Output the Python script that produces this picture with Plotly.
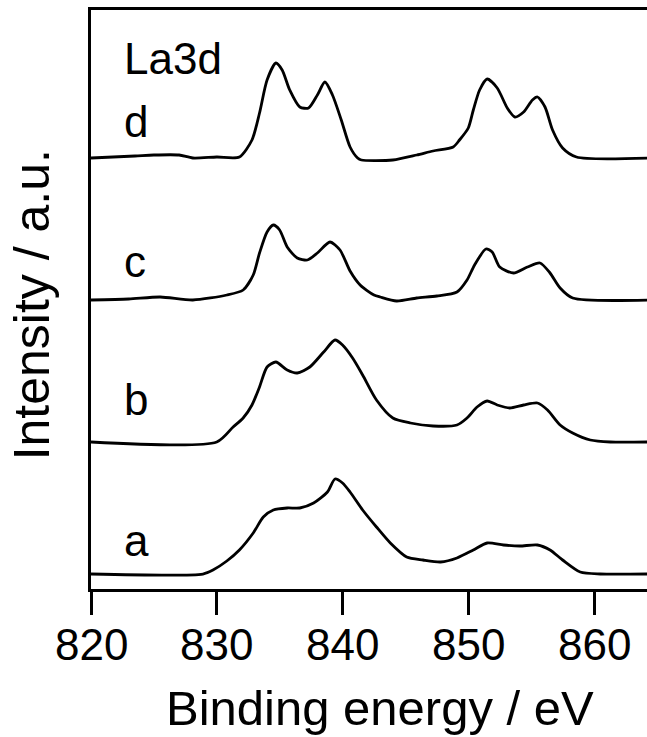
import plotly.graph_objects as go

# Binding energy (eV) and intensity (a.u.)
energy_a = [820, 828.9, 829.7, 830.8, 831.8, 832.9, 833.7, 834.5, 835.6, 836.6, 837.7, 838.8, 839.4, 840,
            840.6, 841.6, 842.7, 843.8, 845.1, 846.4, 847.8, 849.1, 850.4, 851.5, 852.8, 854.1, 855.5,
            856.5, 857.5, 858.9, 860.5, 864.3]
intensity_a = [15, 15, 19, 28, 39, 56, 72, 79, 81, 81, 86, 97, 110, 106,
               97, 79, 62, 46, 32, 29, 27, 31, 39, 46, 44, 43, 44,
               39, 29, 17, 15, 15]

energy_b = [820, 830, 831.3, 832.1, 832.8, 833.4, 834, 834.7, 835.6, 836.4, 837.4, 838.5, 839.4, 840,
            840.8, 841.6, 842.7, 844, 845.4, 847.2, 849.1, 849.9, 850.7, 851.5, 852.3, 853.3, 854.4,
            855.5, 856.3, 857.3, 858.3, 859.7, 861.3, 864.3]
intensity_b = [147, 147, 162, 171, 184, 202, 222, 227, 219, 216, 222, 237, 249, 244,
               231, 214, 189, 171, 166, 163, 164, 171, 182, 188, 184, 181, 184,
               186, 179, 164, 156, 149, 147, 147]

energy_c = [820, 823, 825.5, 828.1, 830.8, 832.1, 832.9, 833.4, 834, 834.5, 835, 835.6, 836.4, 837.2,
            838, 839, 839.8, 840.6, 841.4, 842.5, 843, 844.3, 845.9, 847.5, 849.1, 849.9, 850.5,
            851.4, 851.9, 852.5, 853.6, 854.7, 855.7, 856.5, 857.3, 858.3, 864.3]
intensity_c = [289, 290, 292, 289, 294, 299, 314, 336, 357, 364, 359, 342, 331, 329,
               336, 347, 339, 318, 304, 294, 292, 288, 291, 293, 297, 309, 324,
               340, 337, 322, 316, 322, 326, 316, 301, 291, 289]

energy_d = [820, 823.5, 825, 827, 828.1, 830, 831.8, 832.8, 833.4, 834, 834.7, 835.2, 835.8, 836.6,
            837.3, 838, 838.6, 839.2, 839.9, 840.6, 841.2, 841.5, 844, 845.9, 847.2, 848.8, 849.3,
            850, 850.4, 850.9, 851.5, 852.3, 853.1, 853.7, 854.4, 855.1, 855.5, 856.1, 856.7,
            857.5, 858.6, 864.3]
intensity_d = [431, 433, 434, 434, 431, 432, 432, 449, 476, 509, 526, 519, 499, 482,
               481, 494, 507, 494, 469, 442, 431, 429, 429, 434, 438, 442, 449,
               461, 479, 499, 510, 501, 481, 472, 477, 489, 492, 482, 459,
               441, 432, 431]

tick_values = [820, 830, 840, 850, 860]
tick_labels = ["820", "830", "840", "850", "860"]

curve_labels = ["a", "b", "c", "d"]
label_y = [49, 190, 328, 468]
header_text = "La3d"
header_y = 531

FONT = "Liberation Sans, Arial, sans-serif"

fig = go.Figure()
for ex, iy in [(energy_a, intensity_a), (energy_b, intensity_b),
               (energy_c, intensity_c), (energy_d, intensity_d)]:
    fig.add_trace(go.Scatter(x=ex, y=iy, mode="lines",
                             line=dict(color="black", width=2.8, shape="spline", smoothing=0.7),
                             showlegend=False, hoverinfo="skip"))

annotations = []
for lab, ly in zip(curve_labels, label_y):
    annotations.append(dict(x=822.5, y=ly, xref="x", yref="y", text=lab, showarrow=False,
                            xanchor="left", yanchor="middle",
                            font=dict(family=FONT, size=44, color="black")))
annotations.append(dict(x=822.5, y=header_y, xref="x", yref="y", text=header_text, showarrow=False,
                        xanchor="left", yanchor="middle",
                        font=dict(family=FONT, size=44, color="black")))
for tv, tl in zip(tick_values, tick_labels):
    annotations.append(dict(x=tv, y=-0.096, xref="x", yref="paper", text=tl, showarrow=False,
                            xanchor="center", yanchor="middle",
                            font=dict(family=FONT, size=44, color="black")))
annotations.append(dict(x=-0.106, y=0.49, xref="paper", yref="paper", text="Intensity / a.u.",
                        showarrow=False, textangle=-90, xanchor="center", yanchor="middle",
                        font=dict(family=FONT, size=50, color="black")))
annotations.append(dict(x=0.52, y=-0.2047, xref="paper", yref="paper", text="Binding energy / eV",
                        showarrow=False, xanchor="center", yanchor="middle",
                        font=dict(family=FONT, size=49, color="black")))

fig.update_layout(
    width=647, height=737,
    margin=dict(l=91, r=0, t=10, b=148),
    paper_bgcolor="white", plot_bgcolor="white",
    annotations=annotations,
    xaxis=dict(range=[820, 864.21], tickvals=tick_values, showticklabels=False,
               ticks="outside", ticklen=23, tickwidth=3, tickcolor="black",
               showline=True, linewidth=3, linecolor="black", mirror=True,
               showgrid=False, zeroline=False),
    yaxis=dict(range=[0, 579], showticklabels=False, ticks="",
               showline=True, linewidth=3, linecolor="black", mirror=False,
               showgrid=False, zeroline=False),
)

fig.write_html("out.html")
